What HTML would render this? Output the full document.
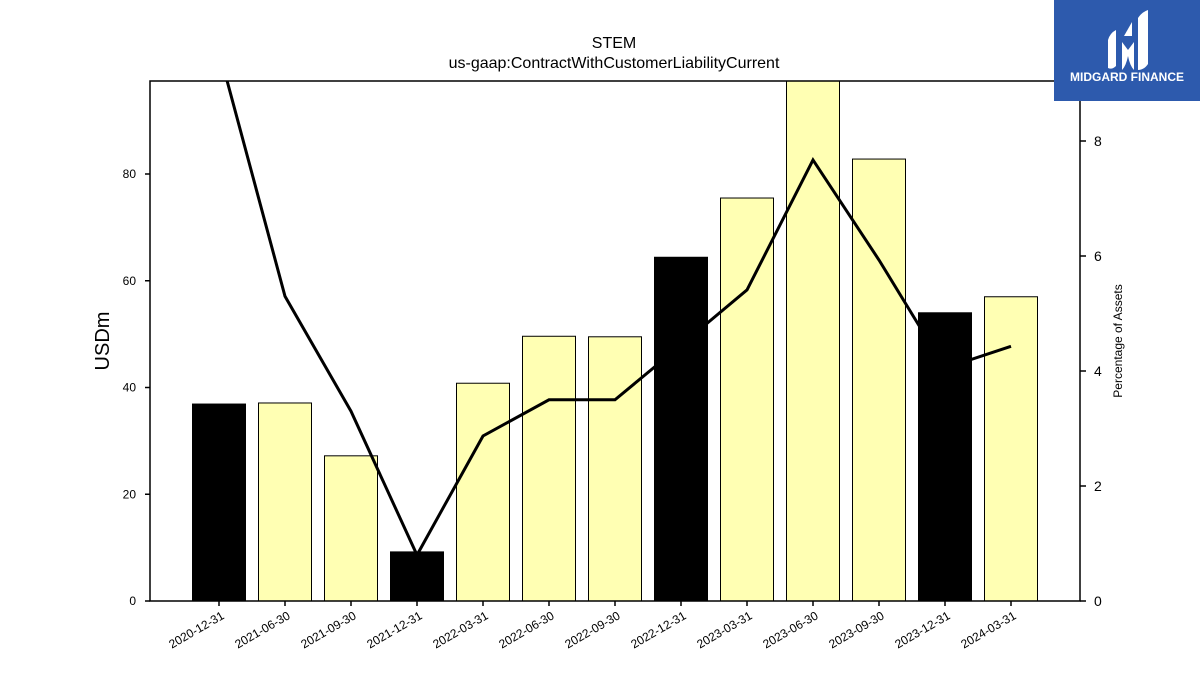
<!DOCTYPE html>
<html><head><meta charset="utf-8"><style>
body{margin:0;background:#fff;}
svg{display:block;font-family:"Liberation Sans","DejaVu Sans",sans-serif;}
</style></head><body>
<svg id="chart" width="1200" height="675" viewBox="0 0 1200 675" xmlns="http://www.w3.org/2000/svg">
<text x="614" y="48" text-anchor="middle" font-size="16">STEM</text>
<text x="614" y="68" text-anchor="middle" font-size="16">us-gaap:ContractWithCustomerLiabilityCurrent</text>
<defs><clipPath id="plotclip"><rect x="150" y="81" width="930" height="520"/></clipPath></defs>
<g id="bars" clip-path="url(#plotclip)"></g>
<g id="line" clip-path="url(#plotclip)"></g>
<rect x="150" y="81" width="930" height="520" fill="none" stroke="#000" stroke-width="1.5"/>
<g id="axes"></g>
<text transform="translate(109,341) rotate(-90)" text-anchor="middle" font-size="20">USDm</text>
<text transform="translate(1122,341) rotate(-90)" text-anchor="middle" font-size="12">Percentage of Assets</text>
<g>
<rect x="1054" y="0" width="146" height="101" fill="#2d5aad"/>
<path d="M1108 68 L1108 40 Q1110 33 1116 30 L1116 66 Q1112 70 1108 68Z" fill="#fff"/>
<path d="M1122 70 L1122 42 L1128 50 L1134 42 L1134 70 Q1130 66 1128 56 Q1126 66 1122 70Z" fill="#fff"/>
<path d="M1124 36 L1132 22 L1132 36Z" fill="#fff"/>
<path d="M1138 70 L1138 18 Q1142 12 1148 10 L1148 64 Q1144 70 1138 70Z" fill="#fff"/>
<text x="1127" y="81" text-anchor="middle" font-size="12" font-weight="bold" fill="#fff">MIDGARD FINANCE</text>
</g>
</svg>
<script>
const categories=["2020-12-31","2021-06-30","2021-09-30","2021-12-31","2022-03-31","2022-06-30","2022-09-30","2022-12-31","2023-03-31","2023-06-30","2023-09-30","2023-12-31","2024-03-31"];
const barValues=[36.9,37.1,27.2,9.2,40.8,49.6,49.5,64.4,75.5,99.5,82.8,54.0,57.0];
const pctValues=[9.57,5.30,3.30,0.80,2.87,3.50,3.50,4.45,5.41,7.67,5.93,4.05,4.43];
const leftTicks=[0,20,40,60,80];
const rightTicks=[0,2,4,6,8];
const NS="http://www.w3.org/2000/svg";
function xPos(i){return 219+66*i;}
function yL(v){return 601-v*5.3375;}
function yR(v){return 601-v*57.5;}
function mk(tag,attrs,parent){const e=document.createElementNS(NS,tag);for(const k in attrs)e.setAttribute(k,attrs[k]);parent.appendChild(e);return e;}
const bars=document.getElementById('bars'),line=document.getElementById('line'),axes=document.getElementById('axes');
categories.forEach((c,i)=>{
  const yr=c.endsWith('12-31');
  const r=mk('rect',{x:xPos(i)-26.5,y:yL(barValues[i]),width:53,height:601-yL(barValues[i]),fill:yr?'#000':'#ffffb3',stroke:'#000','stroke-width':1},bars);
  
  
  const t=mk('line',{x1:xPos(i),x2:xPos(i),y1:601,y2:606,stroke:'#000','stroke-width':1.5},axes);
  
  
  const l=mk('text',{transform:`translate(${xPos(i)+6},618) rotate(-30)`,'text-anchor':'end','font-size':12},axes);
  l.textContent=c;
  
  
});
const pl=mk('polyline',{points:pctValues.map((v,i)=>xPos(i)+','+yR(v)).join(' '),fill:'none',stroke:'#000','stroke-width':3},line);


leftTicks.forEach(v=>{
  const t=mk('line',{x1:145,x2:150,y1:yL(v),y2:yL(v),stroke:'#000','stroke-width':1.5},axes);
  
  
  const l=mk('text',{x:136,y:yL(v)+4,'text-anchor':'end','font-size':12},axes);
  l.textContent=v;
  
  
});
rightTicks.forEach(v=>{
  const t=mk('line',{x1:1080,x2:1086,y1:yR(v),y2:yR(v),stroke:'#000','stroke-width':1.5},axes);
  
  
  const l=mk('text',{x:1094,y:yR(v)+5,'font-size':14},axes);
  l.textContent=v;
  
  
});
</script>
</body></html>
